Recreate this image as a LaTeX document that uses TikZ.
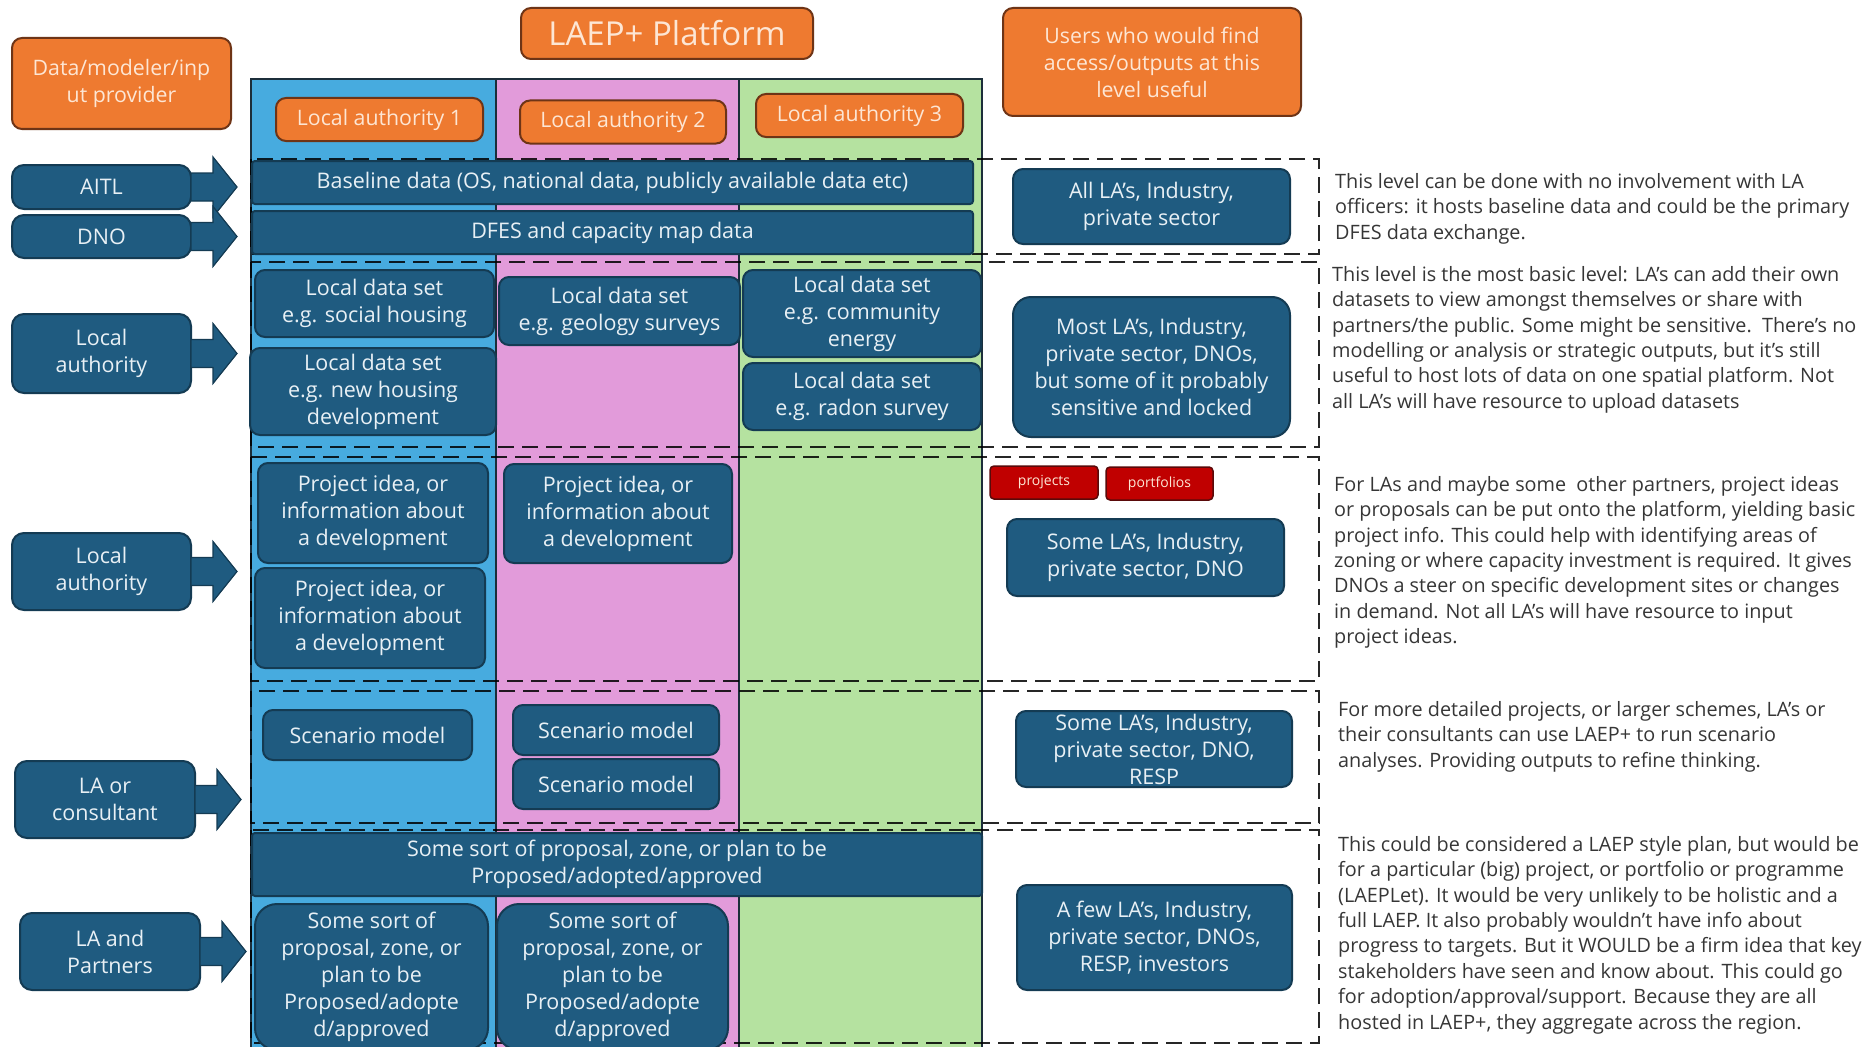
\documentclass[tikz,border=0pt]{standalone}
\usepackage{fontspec}
\setmainfont{Open Sans}
\usetikzlibrary{calc}

\definecolor{boxblue}{HTML}{1F5B80}
\definecolor{boxedge}{HTML}{143B53}
\definecolor{colblue}{HTML}{47ABDF}
\definecolor{colpink}{HTML}{E29BDA}
\definecolor{colgreen}{HTML}{B5E2A0}
\definecolor{orangefill}{HTML}{EE7A30}
\definecolor{orangeedge}{HTML}{6E3416}
\definecolor{redfill}{HTML}{C00000}
\definecolor{rededge}{HTML}{5A0A0A}
\definecolor{notetext}{HTML}{363636}
\definecolor{lighttext}{HTML}{E8F0F5}
\definecolor{creamtext}{HTML}{FDE6D4}
\definecolor{platline}{HTML}{1C2E3A}

\begin{document}
\begin{tikzpicture}[x=1pt,y=-1pt,
  sz/.style 2 args={minimum width=#1, minimum height=#2},
  bluebox/.style={draw=boxedge, line width=2pt, fill=boxblue, rounded corners=10pt,
    text=lighttext, align=center, inner sep=1pt, font=\fontsize{21.5}{27}\selectfont},
  barbox/.style={bluebox, rounded corners=3pt},
  srcbox/.style={bluebox, rounded corners=12pt},
  orangebox/.style={draw=orangeedge, line width=2pt, fill=orangefill, rounded corners=10pt,
    text=creamtext, align=center, inner sep=1pt, font=\fontsize{21.3}{27}\selectfont},
  redbox/.style={draw=rededge, line width=1.5pt, fill=redfill, rounded corners=4pt,
    text=creamtext, inner sep=1pt, font=\fontsize{14}{16}\selectfont},
  note/.style={anchor=north west, inner sep=0pt, align=left, text=notetext,
    font=\fontsize{19.8}{25.4}\selectfont},
  rowbox/.style={draw=black, draw opacity=0.85, line width=2.5pt, dash pattern=on 16pt off 8pt},
  blockarrow/.style={fill=boxblue, draw=boxedge, line width=1.2pt, line join=miter},
]
\useasboundingbox (0,0) rectangle (1867,1046);
\clip (0,0) rectangle (1867,1046);
\fill[white] (0,0) rectangle (1867,1046);

% platform columns, one per local authority
\fill[colblue]  (251,79) rectangle (496,1060);
\fill[colpink]  (496,79) rectangle (739,1060);
\fill[colgreen] (739,79) rectangle (982,1060);
\draw[platline, line width=1.5pt] (251,79) rectangle (982,1060);
\draw[platline, line width=1.5pt] (496,79) -- (496,1060);
\draw[platline, line width=1.5pt] (739,79) -- (739,1060);

% dashed bands, one per level
\draw[rowbox] (251,159) rectangle (1319,254);
\draw[rowbox] (251,262) rectangle (1319,447);
\draw[rowbox] (251,457) rectangle (1319,681);
\draw[rowbox] (251,691) rectangle (1319,823);
\draw[rowbox] (251,830) rectangle (1319,1043);

% headings
\node[orangebox, sz={219}{91}] (provider) at (121.5,83.5) {Data/modeler/inp\\ut provider};
\node[orangebox, sz={292}{51}, font=\fontsize{33}{36}\selectfont] (title) at (667,33.5) {LAEP+ Platform};
\node[orangebox, sz={298}{108}] (users) at (1152,62) {Users who would find\\access/outputs at this\\level useful};
\node[orangebox, sz={207}{43}] (lahA) at (379.5,119.5) {Local authority 1};
\node[orangebox, sz={206}{43}] (lahB) at (623,122) {Local authority 2};
\node[orangebox, sz={207}{43}] (lahC) at (859.5,115.5) {Local authority 3};

% contributors on the left
\node[srcbox, sz={179}{44}] (aitl) at (101.5,187) {AITL};
\node[srcbox, sz={179}{43}] (dno) at (101.5,236.5) {DNO};
\node[srcbox, sz={179}{79}] (laone) at (101.5,353.5) {Local\\authority};
\node[srcbox, sz={179}{77}] (latwo) at (101.5,571.5) {Local\\authority};
\node[srcbox, sz={180}{77}] (lacons) at (105,799.5) {LA or\\consultant};
\node[srcbox, sz={180}{77}] (lapart) at (110,951.5) {LA and\\Partners};

% block arrows pointing into the platform
\foreach \src in {aitl,dno,laone,latwo,lacons,lapart}{
  \draw[blockarrow] ($(\src.east)+(-1,-14)$) -- ++(22,0) -- ++(0,-16) -- ++(24,30)
    -- ++(-24,30) -- ++(0,-16) -- ++(-22,0) -- cycle;
}

% level 1: baseline data
\node[barbox, sz={721}{43}] (base) at (612.5,182.5) {Baseline data (OS, national data, publicly available data etc)};
\node[barbox, sz={721}{43}] (dfes) at (612.5,232.5) {DFES and capacity map data};

% level 2: local data sets
\node[bluebox, sz={239}{67}] (ldsA) at (374.5,303.5) {Local data set\\e.g. social housing};
\node[bluebox, sz={246}{87}] (ldsB) at (373,391.5) {Local data set\\e.g. new housing\\development};
\node[bluebox, sz={241}{68}] (ldsC) at (619.5,311) {Local data set\\e.g. geology surveys};
\node[bluebox, sz={238}{87}] (ldsD) at (862,313.5) {Local data set\\e.g. community\\energy};
\node[bluebox, sz={238}{67}] (ldsE) at (862,396.5) {Local data set\\e.g. radon survey};

% level 3: project ideas
\node[bluebox, sz={230}{100}] (projA) at (373,513) {Project idea, or\\information about\\a development};
\node[bluebox, sz={230}{100}] (projB) at (370,618) {Project idea, or\\information about\\a development};
\node[bluebox, sz={228}{99}] (projC) at (618,513.5) {Project idea, or\\information about\\a development};

% level 4: scenario models
\node[bluebox, sz={209}{50}] (scenA) at (367.5,735) {Scenario model};
\node[bluebox, sz={206}{50}] (scenB) at (616,730) {Scenario model};
\node[bluebox, sz={206}{50}] (scenC) at (616,784) {Scenario model};

% level 5: proposals
\node[barbox, sz={730}{63}] (prop) at (617,864.5) {Some sort of proposal, zone, or plan to be\\Proposed/adopted/approved};
\node[bluebox, rounded corners=22pt, sz={233}{146}] (propA) at (371.5,977) {Some sort of\\proposal, zone, or\\plan to be\\Proposed/adopte\\d/approved};
\node[bluebox, rounded corners=22pt, sz={231}{146}] (propB) at (612.5,977) {Some sort of\\proposal, zone, or\\plan to be\\Proposed/adopte\\d/approved};

% users at each level
\node[bluebox, sz={277}{75}] (userA) at (1151.5,206.5) {All LA’s, Industry,\\private sector};
\node[bluebox, rounded corners=18pt, sz={277}{140}] (userB) at (1151.5,367) {Most LA’s, Industry,\\private sector, DNOs,\\but some of it probably\\sensitive and locked};
\node[redbox, sz={108}{33}] (projects) at (1044,482.5) {projects};
\node[redbox, sz={107}{33}] (portfolios) at (1159.5,483.5) {portfolios};
\node[bluebox, sz={277}{77}] (userC) at (1145.5,557.5) {Some LA’s, Industry,\\private sector, DNO};
\node[bluebox, sz={276}{76}] (userD) at (1154,749) {Some LA’s, Industry,\\private sector, DNO,\\RESP};
\node[bluebox, sz={275}{105}] (userE) at (1154.5,937.5) {A few LA’s, Industry,\\private sector, DNOs,\\RESP, investors};

% notes describing each level
\node[note] (noteA) at (1335,173) {This level can be done with no involvement with LA\\officers: it hosts baseline data and could be the primary\\DFES data exchange.};
\node[note] (noteB) at (1332,266) {This level is the most basic level: LA’s can add their own\\datasets to view amongst themselves or share with\\partners/the public. Some might be sensitive.\ \ There’s no\\modelling or analysis or strategic outputs, but it’s still\\useful to host lots of data on one spatial platform. Not\\all LA’s will have resource to upload datasets};
\node[note] (noteC) at (1334,476) {For LAs and maybe some\ \ other partners, project ideas\\or proposals can be put onto the platform, yielding basic\\project info. This could help with identifying areas of\\zoning or where capacity investment is required. It gives\\DNOs a steer on specific development sites or changes\\in demand. Not all LA’s will have resource to input\\project ideas.};
\node[note] (noteD) at (1338,701) {For more detailed projects, or larger schemes, LA’s or\\their consultants can use LAEP+ to run scenario\\analyses. Providing outputs to refine thinking.};
\node[note] (noteE) at (1338,836) {This could be considered a LAEP style plan, but would be\\for a particular (big) project, or portfolio or programme\\(LAEPLet). It would be very unlikely to be holistic and a\\full LAEP. It also probably wouldn’t have info about\\progress to targets. But it WOULD be a firm idea that key\\stakeholders have seen and know about. This could go\\for adoption/approval/support. Because they are all\\hosted in LAEP+, they aggregate across the region.};
\end{tikzpicture}
\end{document}
